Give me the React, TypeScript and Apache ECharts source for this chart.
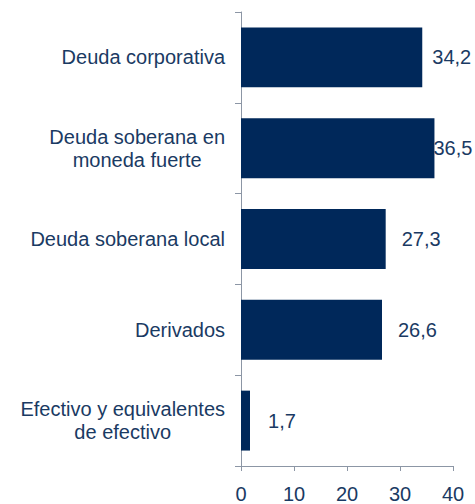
import React, { useEffect, useRef } from "react";
import * as echarts from "echarts";

const categories: string[] = [
  "Deuda corporativa",
  "Deuda soberana en\nmoneda fuerte",
  "Deuda soberana local",
  "Derivados",
  "Efectivo y equivalentes\nde efectivo",
];
const values: number[] = [34.2, 36.5, 27.3, 26.6, 1.7];
const xTicks = { min: 0, max: 40, interval: 10 };

const TEXT = "#1A3A63";
const BAR = "#00285A";
const AXIS = "#8C96A5";
const FONT = "'Liberation Sans', Arial, sans-serif";

export default function App() {
  const ref = useRef<HTMLDivElement>(null);
  useEffect(() => {
    if (!ref.current) return;
    const chart = echarts.init(ref.current, undefined, { renderer: "svg" });
    const gaps = [10, -1, 16, 16, 18];
    chart.setOption({
      animation: false,
      grid: { left: 241, right: 22, top: 12, bottom: 31, containLabel: false },
      xAxis: {
        type: "value",
        min: xTicks.min,
        max: xTicks.max,
        interval: xTicks.interval,
        splitLine: { show: false },
        axisLine: { show: true, lineStyle: { color: AXIS, width: 1 } },
        axisTick: { show: true, length: 5, lineStyle: { color: AXIS } },
        axisLabel: { color: TEXT, fontSize: 20, fontFamily: FONT, margin: 18 },
      },
      yAxis: {
        type: "category",
        inverse: true,
        data: categories,
        axisLine: { show: true, lineStyle: { color: AXIS, width: 1 } },
        axisTick: { show: true, length: 6, lineStyle: { color: AXIS } },
        axisLabel: {
          color: TEXT,
          fontSize: 20,
          fontFamily: FONT,
          margin: 16,
          lineHeight: 23,
          formatter: (v: string) => "{c|" + v + "}",
          rich: {
            c: {
              align: "center",
              color: TEXT,
              fontSize: 20,
              fontFamily: FONT,
              lineHeight: 23,
            },
          },
        },
      },
      series: [
        {
          type: "bar",
          barCategoryGap: "34%",
          itemStyle: { color: BAR },
          data: values.map((v, i) => ({
            value: v,
            label: {
              show: true,
              position: "right",
              distance: gaps[i],
              color: TEXT,
              fontSize: 20,
              fontFamily: FONT,
              formatter: (p: any) => Number(p.value).toFixed(1).replace(".", ","),
            },
          })),
        },
      ],
    });
    return () => chart.dispose();
  }, []);
  return (
    <div
      ref={ref}
      style={{ position: "absolute", left: 0, top: 0, width: 475, height: 504 }}
    />
  );
}
